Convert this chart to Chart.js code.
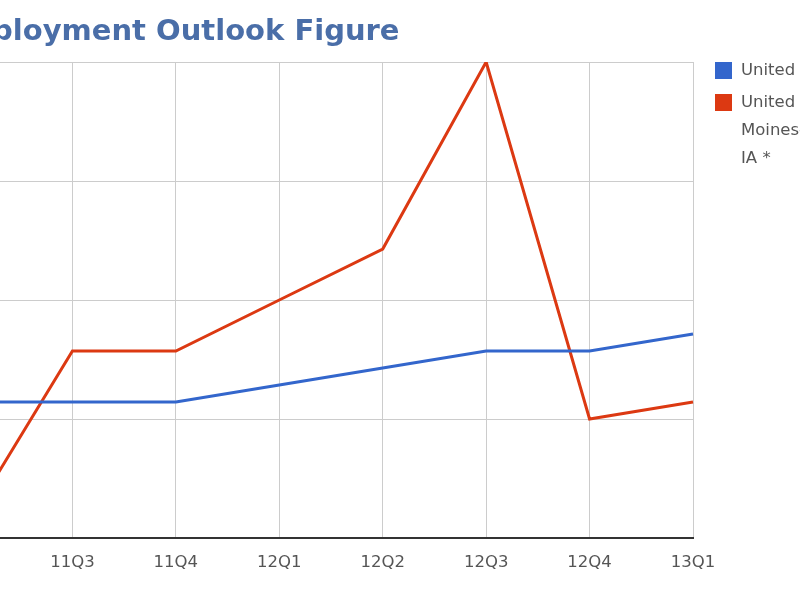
<!DOCTYPE html>
<html>
<head>
<meta charset="utf-8">
<script src="https://cdn.jsdelivr.net/npm/chart.js@4/dist/chart.umd.min.js"></script>
<style>
  html, body { margin: 0; padding: 0; width: 800px; height: 600px; overflow: hidden; background: #fff; position: relative; }
  #wrap { position: absolute; left: -131px; top: 0; width: 1100px; height: 600px; }
  #title { position: absolute; left: -58px; top: 13px; white-space: nowrap; font-family: "DejaVu Sans", sans-serif; font-weight: bold; font-size: 29px; color: #4a6ea8; }
  .leg { position: absolute; left: 715px; font-family: "DejaVu Sans", sans-serif; font-size: 16.5px; color: #555; white-space: nowrap; line-height: 28px; }
  .leg .box { position: absolute; left: 0; top: 0; width: 17px; height: 17px; }
  .leg .txt { position: absolute; left: 26px; top: -6px; }
</style>
</head>
<body>
<div id="wrap"><canvas id="c" width="1100" height="600"></canvas></div>
<div id="title"></div>
<div class="leg" id="leg0" style="top:62px"><div class="box"></div><div class="txt"></div></div>
<div class="leg" id="leg1" style="top:94px"><div class="box"></div><div class="txt"></div></div>
<script>
const titleText = "Employment Outlook Figure";
const categories = ["11Q2", "11Q3", "11Q4", "12Q1", "12Q2", "12Q3", "12Q4", "13Q1"];
const seriesNames = ["United States", ["United States - Des", "Moines-West Des Moines,", "IA *"]];
const usValues = [8, 8, 8, 9, 10, 11, 11, 12];
const desMoinesValues = [1, 11, 11, 14, 17, 28, 7, 8];
const yTicks = [0, 7, 14, 21, 28];
const colors = ["#3366cc", "#dc3912"];

document.getElementById("title").textContent = titleText;
[0, 1].forEach(i => {
  const el = document.getElementById("leg" + i);
  el.querySelector(".box").style.background = colors[i];
  const n = seriesNames[i];
  el.querySelector(".txt").innerHTML = (Array.isArray(n) ? n : [n]).map(s => s.replace(/&/g, "&amp;").replace(/</g, "&lt;")).join("<br>");
});

new Chart(document.getElementById("c"), {
  type: "line",
  data: {
    labels: categories,
    datasets: [
      { label: "United States", data: usValues, borderColor: colors[0], backgroundColor: colors[0], borderWidth: 3, pointRadius: 0, tension: 0 },
      { label: "Des Moines", data: desMoinesValues, borderColor: colors[1], backgroundColor: colors[1], borderWidth: 3, pointRadius: 0, tension: 0 }
    ]
  },
  options: {
    responsive: false,
    animation: false,
    layout: { padding: { top: 62, right: 276, left: 0, bottom: 0 } },
    plugins: { legend: { display: false }, title: { display: false }, tooltip: { enabled: false } },
    scales: {
      x: {
        offset: false,
        grid: { color: "#cccccc", lineWidth: 1, drawTicks: false },
        border: { display: true, color: "#333333", width: 2 },
        ticks: { color: "#555555", font: { family: "DejaVu Sans", size: 16.5 }, padding: 15, maxRotation: 0, autoSkip: false },
        afterFit: s => { s.height = 62; }
      },
      y: {
        min: 0, max: 28,
        afterBuildTicks: s => { s.ticks = yTicks.map(v => ({ value: v })); },
        grid: { color: "#cccccc", lineWidth: 1, drawTicks: false },
        border: { display: false },
        ticks: { display: false },
        afterFit: s => { s.width = 100; }
      }
    }
  }
});
</script>
</body>
</html>
